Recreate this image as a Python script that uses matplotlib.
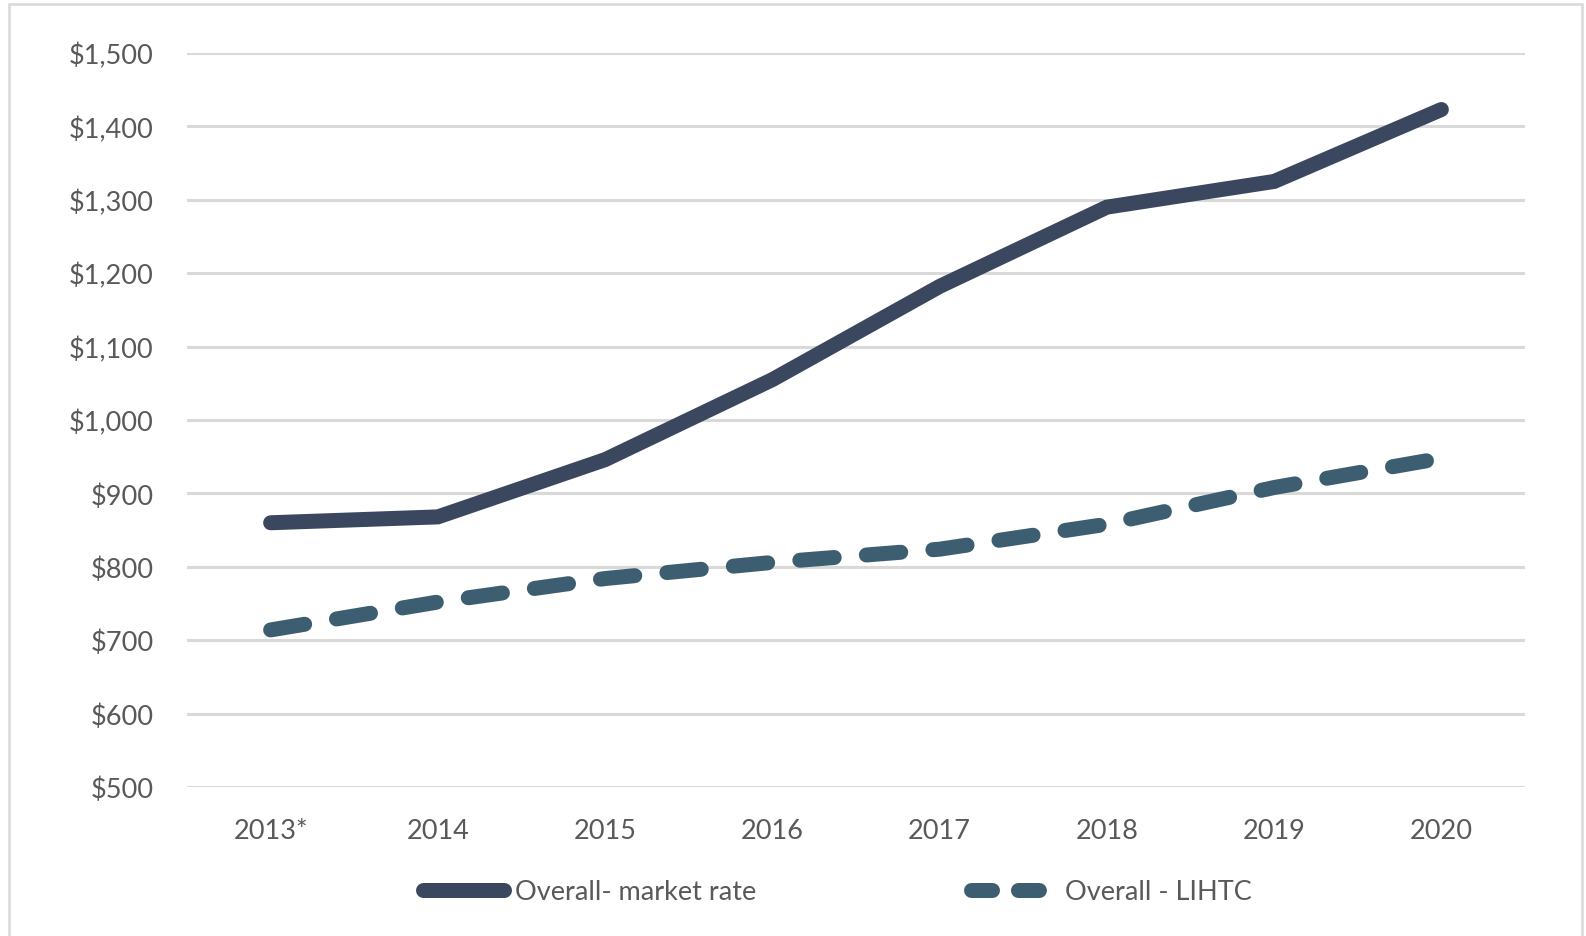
import matplotlib
matplotlib.use("Agg")
import matplotlib.pyplot as plt
from matplotlib.patches import Rectangle
from matplotlib.lines import Line2D
from matplotlib.ticker import FuncFormatter

years = ["2013*", "2014", "2015", "2016", "2017", "2018", "2019", "2020"]
market_rate = [860, 868, 946, 1055, 1182, 1290, 1325, 1423]
lihtc = [714, 752, 784, 806, 824, 858, 908, 948]
series_names = ["Overall- market rate", "Overall - LIHTC"]
y_ticks = [500, 600, 700, 800, 900, 1000, 1100, 1200, 1300, 1400, 1500]

plt.rcParams['font.family'] = ['Lato', 'DejaVu Sans']
text_color = "#595959"
c_market = "#3A475E"
c_lihtc = "#3D5E70"
grid_color = "#D9D9D9"

W, H = 1586, 937
fig = plt.figure(figsize=(W / 100, H / 100), dpi=100)
ax = fig.add_axes([187 / W, 1 - 788 / H, (1525 - 187) / W, (788 - 54) / H])

x = list(range(len(years)))
lw = 10.8
ax.plot(x, market_rate, color=c_market, lw=lw, solid_capstyle='round',
        solid_joinstyle='miter', label=series_names[0], zorder=3)
ax.plot(x, lihtc, color=c_lihtc, lw=lw, dash_capstyle='round',
        dashes=(2.3, 2.15), label=series_names[1], zorder=3)

ax.set_xlim(-0.5, len(years) - 0.5)
ax.set_ylim(500, 1500)
ax.set_yticks(y_ticks)
ax.yaxis.set_major_formatter(FuncFormatter(lambda v, p: "${:,.0f}".format(v)))
ax.set_xticks(x)
ax.set_xticklabels(years)
ax.grid(axis='y', color=grid_color, lw=2.2, zorder=0)
ax.set_axisbelow(True)
for s in ax.spines.values():
    s.set_visible(False)
ax.tick_params(axis='both', length=0, labelsize=19.5, labelcolor=text_color)
ax.tick_params(axis='y', pad=24)
ax.tick_params(axis='x', pad=22)

fs = 19.5
em = fs / 0.72  # px per em at dpi 100
leg_y = 1 - 893 / H
h1 = Line2D([], [], color=c_market, lw=lw, solid_capstyle='round')
h2 = Line2D([], [], color=c_lihtc, lw=lw, dash_capstyle='round', dashes=(1.4, 1.73))
leg1 = fig.legend([h1], [series_names[0]], loc='center left',
                  bbox_to_anchor=(423 / W, leg_y), frameon=False, fontsize=fs,
                  labelcolor=text_color, handlelength=81 / em, handletextpad=0.4,
                  borderpad=0, borderaxespad=0)
leg2 = fig.legend([h2], [series_names[1]], loc='center left',
                  bbox_to_anchor=(971 / W, leg_y), frameon=False, fontsize=fs,
                  labelcolor=text_color, handlelength=68 / em, handletextpad=0.97,
                  borderpad=0, borderaxespad=0)

fig.patches.append(Rectangle((9 / W, -0.01), (1582 - 9) / W, 1 - 5 / H + 0.01,
                             transform=fig.transFigure, fill=False,
                             edgecolor="#D9D9D9", lw=1.8))

fig.savefig("out.png", dpi=100, facecolor="white")
